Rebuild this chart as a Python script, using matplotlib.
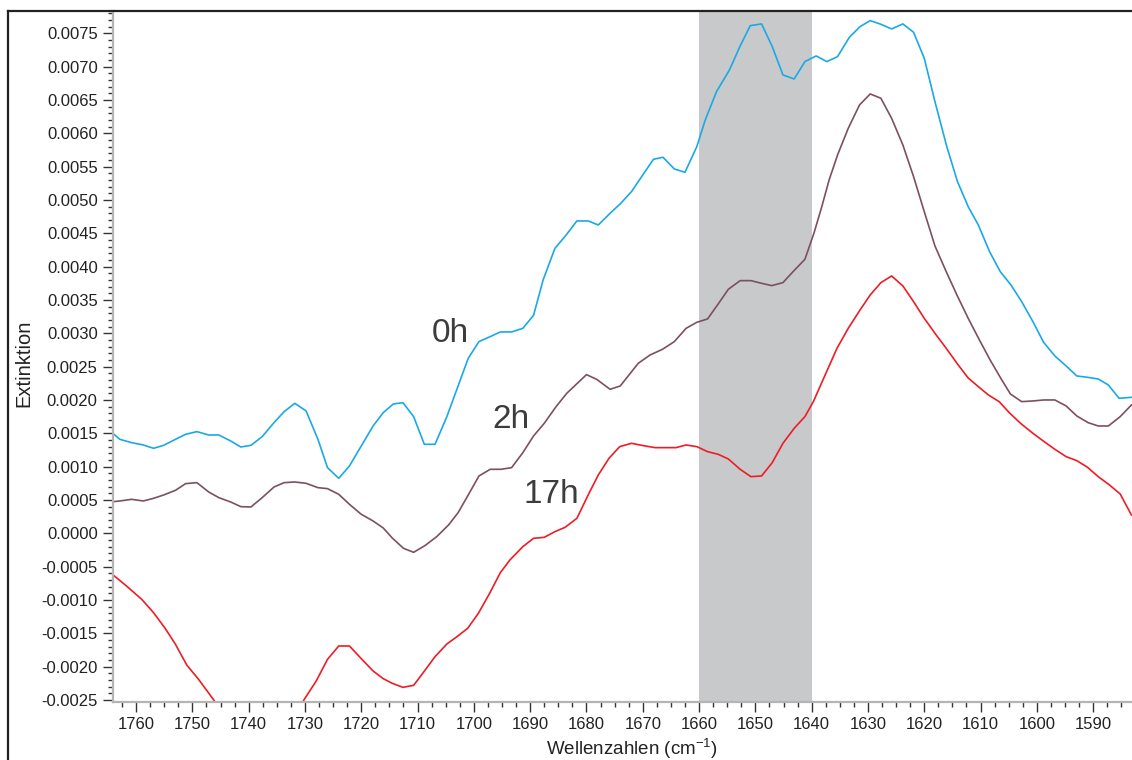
import numpy as np
import matplotlib
matplotlib.use("Agg")
import matplotlib.pyplot as plt
from matplotlib.ticker import MultipleLocator, FormatStrFormatter
from matplotlib.lines import Line2D

plt.rcParams['font.family'] = ['Liberation Sans', 'DejaVu Sans']
plt.rcParams['mathtext.default'] = 'regular'

# Wellenzahlen (cm-1) und Extinktion (x 1e-3)
wn_0h = [1764.0, 1762.9, 1760.8, 1758.7, 1756.9, 1755.1, 1753.0, 1751.2, 1749.2, 1747.1,
         1745.3, 1743.2, 1741.4, 1739.6, 1737.6, 1735.5, 1733.7, 1731.8, 1729.8, 1727.7,
         1726.0, 1724.0, 1722.1, 1720.0, 1717.9, 1716.1, 1714.3, 1712.6, 1710.7, 1708.8,
         1706.9, 1704.8, 1701.0, 1699.1, 1697.1, 1695.3, 1693.3, 1691.3, 1689.4, 1687.7,
         1685.6, 1683.6, 1681.7, 1679.7, 1677.9, 1675.8, 1673.9, 1672.0, 1670.2, 1668.1,
         1666.4, 1664.4, 1662.5, 1660.4, 1658.9, 1656.9, 1654.6, 1652.7, 1650.9, 1648.9,
         1647.0, 1645.1, 1643.1, 1641.2, 1639.2, 1637.3, 1635.4, 1633.3, 1631.4, 1629.6,
         1627.7, 1625.8, 1623.8, 1621.9, 1620.0, 1618.1, 1616.0, 1614.1, 1612.2, 1610.4,
         1608.4, 1606.5, 1604.6, 1602.7, 1600.7, 1598.8, 1596.8, 1594.8, 1592.9, 1591.0,
         1589.1, 1587.3, 1585.4, 1583.2]
ext_0h = [1.49, 1.41, 1.36, 1.325, 1.275, 1.32, 1.41, 1.485, 1.525, 1.475,
          1.475, 1.385, 1.295, 1.32, 1.45, 1.66, 1.825, 1.95, 1.835, 1.41,
          0.985, 0.825, 1.01, 1.31, 1.61, 1.81, 1.94, 1.96, 1.75, 1.335,
          1.335, 1.75, 2.625, 2.875, 2.95, 3.02, 3.02, 3.075, 3.27, 3.80,
          4.275, 4.475, 4.685, 4.685, 4.625, 4.80, 4.95, 5.125, 5.35, 5.61,
          5.64, 5.465, 5.415, 5.80, 6.20, 6.625, 6.95, 7.31, 7.615, 7.64,
          7.30, 6.875, 6.815, 7.075, 7.16, 7.075, 7.15, 7.44, 7.60, 7.69,
          7.635, 7.565, 7.64, 7.515, 7.125, 6.475, 5.80, 5.275, 4.90, 4.625,
          4.225, 3.925, 3.725, 3.475, 3.175, 2.865, 2.66, 2.51, 2.36, 2.34,
          2.315, 2.225, 2.025, 2.04]

wn_2h = [1764.0, 1762.9, 1760.8, 1758.7, 1756.9, 1755.1, 1753.0, 1751.2, 1749.2, 1747.1,
         1745.3, 1743.2, 1741.4, 1739.6, 1737.6, 1735.5, 1733.7, 1731.8, 1729.8, 1727.7,
         1726.0, 1724.0, 1722.1, 1720.0, 1717.9, 1716.1, 1714.5, 1712.5, 1710.7, 1708.7,
         1706.6, 1704.5, 1702.8, 1701.0, 1699.1, 1697.1, 1695.2, 1693.3, 1691.3, 1689.4,
         1687.5, 1685.4, 1683.5, 1680.0, 1678.2, 1675.8, 1674.0, 1670.8, 1668.7, 1666.5,
         1664.4, 1662.3, 1660.4, 1658.5, 1656.6, 1654.8, 1652.7, 1650.8, 1648.9, 1647.1,
         1645.1, 1643.3, 1641.2, 1639.6, 1638.2, 1636.9, 1635.4, 1633.5, 1631.5, 1629.6,
         1627.7, 1625.8, 1623.8, 1621.9, 1620.0, 1618.1, 1616.1, 1614.2, 1612.2, 1610.2,
         1608.3, 1606.3, 1604.7, 1602.7, 1600.7, 1598.8, 1596.8, 1594.8, 1592.9, 1590.9,
         1589.1, 1587.3, 1585.2, 1583.2]
ext_2h = [0.475, 0.485, 0.51, 0.485, 0.525, 0.575, 0.645, 0.745, 0.76, 0.62,
          0.535, 0.47, 0.40, 0.395, 0.535, 0.695, 0.76, 0.77, 0.75, 0.685,
          0.67, 0.585, 0.435, 0.285, 0.185, 0.08, -0.07, -0.225, -0.285, -0.185,
          -0.05, 0.125, 0.31, 0.575, 0.86, 0.96, 0.96, 0.985, 1.21, 1.46,
          1.65, 1.90, 2.10, 2.38, 2.31, 2.16, 2.21, 2.55, 2.675, 2.76,
          2.875, 3.075, 3.165, 3.215, 3.44, 3.66, 3.79, 3.79, 3.75, 3.715,
          3.76, 3.925, 4.11, 4.50, 4.90, 5.30, 5.675, 6.075, 6.425, 6.59,
          6.525, 6.225, 5.825, 5.35, 4.825, 4.31, 3.925, 3.575, 3.225, 2.90,
          2.60, 2.31, 2.09, 1.975, 1.985, 2.00, 2.00, 1.91, 1.76, 1.66,
          1.61, 1.61, 1.75, 1.925]

wn_17h = [1764.0, 1761.7, 1759.0, 1756.9, 1754.8, 1753.0, 1751.0, 1748.9, 1746.2, 1744.0,
          1742.0, 1740.0, 1738.0, 1736.0, 1734.0, 1732.0, 1730.2, 1728.0, 1726.0, 1724.0,
          1722.1, 1720.0, 1717.9, 1716.1, 1714.5, 1712.6, 1710.7, 1709.0, 1706.9, 1704.8,
          1703.0, 1701.1, 1699.2, 1697.2, 1695.3, 1693.6, 1691.3, 1689.4, 1687.5, 1685.6,
          1683.8, 1681.7, 1679.7, 1677.9, 1676.0, 1674.1, 1672.0, 1669.9, 1667.8, 1666.0,
          1664.1, 1662.3, 1660.4, 1658.5, 1656.6, 1654.8, 1652.7, 1650.8, 1648.9, 1647.0,
          1645.1, 1643.1, 1641.2, 1639.7, 1638.0, 1635.5, 1633.5, 1631.4, 1629.6, 1627.7,
          1625.8, 1623.8, 1621.9, 1620.0, 1618.1, 1616.1, 1614.1, 1612.2, 1610.4, 1608.6,
          1606.7, 1604.9, 1602.9, 1600.7, 1598.7, 1596.8, 1594.8, 1592.9, 1591.0, 1589.1,
          1587.1, 1585.2, 1583.2]
ext_17h = [-0.63, -0.79, -0.99, -1.19, -1.43, -1.665, -1.975, -2.19, -2.50, -2.78,
           -3.0, -3.15, -3.2, -3.15, -3.0, -2.8, -2.50, -2.215, -1.89, -1.69,
           -1.69, -1.88, -2.065, -2.18, -2.25, -2.31, -2.28, -2.09, -1.85, -1.66,
           -1.55, -1.425, -1.20, -0.90, -0.59, -0.40, -0.20, -0.075, -0.06, 0.025,
           0.09, 0.225, 0.575, 0.875, 1.125, 1.30, 1.35, 1.315, 1.285, 1.285,
           1.285, 1.325, 1.30, 1.225, 1.185, 1.115, 0.96, 0.85, 0.86, 1.06,
           1.35, 1.575, 1.75, 1.975, 2.30, 2.775, 3.075, 3.35, 3.575, 3.76,
           3.86, 3.71, 3.475, 3.225, 3.00, 2.775, 2.54, 2.33, 2.20, 2.075,
           1.975, 1.81, 1.65, 1.50, 1.375, 1.26, 1.15, 1.09, 0.99, 0.85,
           0.725, 0.59, 0.275]

band = (1660, 1640)   # grau hinterlegter Bereich

W, H = 1132, 760
fig = plt.figure(figsize=(W / 100, H / 100), dpi=100)
ax = fig.add_axes([113 / W, 1 - 702 / H, (W - 113) / W, (702 - 11) / H])

ax.axvspan(band[1], band[0], color="#c8c9cb", lw=0, zorder=0)
ax.plot(wn_0h, np.array(ext_0h) * 1e-3, color="#1aa9e6", lw=1.2)
ax.plot(wn_2h, np.array(ext_2h) * 1e-3, color="#7d4f62", lw=1.2)
ax.plot(wn_17h, np.array(ext_17h) * 1e-3, color="#ee1c25", lw=1.2)

ax.text(1707.4, 0.00287, "0h", fontsize=24, color="#3c3c3c")
ax.text(1696.8, 0.001575, "2h", fontsize=24, color="#3c3c3c")
ax.text(1691.2, 0.00045, "17h", fontsize=24, color="#3c3c3c")

ax.set_xlim(1764.1, 1583.1)
ax.set_ylim(-0.00253, 0.007834)

ax.xaxis.set_major_locator(MultipleLocator(10))
ax.xaxis.set_minor_locator(MultipleLocator(2.5))
ax.yaxis.set_major_locator(MultipleLocator(0.0005))
ax.yaxis.set_minor_locator(MultipleLocator(0.0001))
ax.yaxis.set_major_formatter(FormatStrFormatter("%.4f"))
ax.xaxis.set_major_formatter(FormatStrFormatter("%d"))

ax.tick_params(which="major", length=7, width=1, color="#333333", labelsize=12,
               labelcolor="#222222", pad=4)
ax.tick_params(which="minor", length=3.5, width=1, color="#333333")

for s in ["top", "right"]:
    ax.spines[s].set_visible(False)
for s in ["left", "bottom"]:
    ax.spines[s].set_color("#b4b4b4")
    ax.spines[s].set_linewidth(1.6)

ax.set_xlabel("Wellenzahlen (cm$^{-1}$)", fontsize=13.5, color="#222222")
ax.xaxis.set_label_coords(0.509, -0.051)
ax.set_ylabel("Extinktion", fontsize=14.5, color="#222222")
ax.yaxis.set_label_coords(-0.078, 0.49)

# Rahmen um die Grafik
fig.add_artist(Line2D([8 / W, 8 / W], [0, 1 - 11 / H], color="#222222", lw=1.6))
fig.add_artist(Line2D([8 / W, 1], [1 - 11 / H, 1 - 11 / H], color="#222222", lw=1.6))

fig.savefig("out.png", dpi=100)
